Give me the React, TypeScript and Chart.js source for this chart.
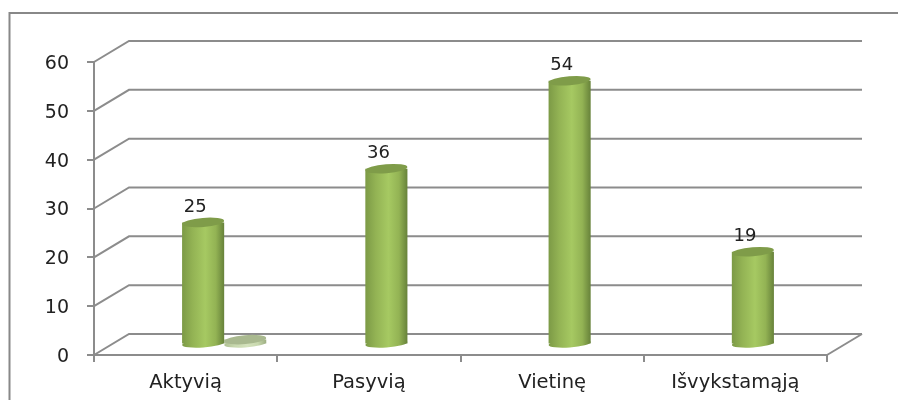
import React, { useEffect, useRef } from "react";
import { Chart, registerables } from "chart.js";

Chart.register(...registerables);

const categories = ["Aktyvią", "Pasyvią", "Vietinę", "Išvykstamąją"];
const mainSeries = [25, 36, 54, 19];
const smallSeries = [1, 0, 0, 0];
const emptySeries = [null, null, null, null];
const yTicks = [0, 10, 20, 30, 40, 50, 60];

const FONT = "'DejaVu Sans', sans-serif";
const GRAY = "#8c8c8c";
const DX = 35;
const DY = 21;

const cylinderPlugin = {
  id: "cylinder",
  beforeDraw(chart: any) {
    const { ctx } = chart;
    ctx.save();
    ctx.fillStyle = "#ffffff";
    ctx.fillRect(0, 0, chart.width, chart.height);
    ctx.strokeStyle = "#888888";
    ctx.lineWidth = 2;
    ctx.beginPath();
    ctx.moveTo(9.5, 400);
    ctx.lineTo(9.5, 13);
    ctx.lineTo(898, 13);
    ctx.stroke();
    ctx.restore();
  },
  beforeDatasetsDraw(chart: any) {
    const { ctx, chartArea: a, scales } = chart;
    const y = scales.y;
    ctx.save();
    ctx.strokeStyle = GRAY;
    ctx.lineWidth = 2;
    for (const t of yTicks) {
      const py = y.getPixelForValue(t);
      ctx.beginPath();
      ctx.moveTo(a.left, py);
      ctx.lineTo(a.left + DX, py - DY);
      ctx.lineTo(a.right + DX, py - DY);
      ctx.stroke();
    }
    const py0 = y.getPixelForValue(0);
    ctx.beginPath();
    ctx.moveTo(a.right, py0);
    ctx.lineTo(a.right + DX, py0 - DY);
    ctx.stroke();
    ctx.restore();

    ctx.save();
    ctx.translate(DX / 2, -DY / 2);
    chart.data.datasets.forEach((ds: any, di: number) => {
      const meta = chart.getDatasetMeta(di);
      meta.data.forEach((el: any, i: number) => {
        const v = ds.data[i];
        if (!v) return;
        const w = el.width;
        const g = ctx.createLinearGradient(el.x - w / 2, 0, el.x + w / 2, 0);
        const s = ds.stopColors;
        g.addColorStop(0, s[0]);
        g.addColorStop(0.25, s[1]);
        g.addColorStop(0.55, s[2]);
        g.addColorStop(0.8, s[1]);
        g.addColorStop(1, s[3]);
        el.options = { ...el.options, backgroundColor: g };
        ctx.fillStyle = g;
        ctx.beginPath();
        ctx.ellipse(el.x, el.base, w / 2, 4, -0.07, 0, Math.PI * 2);
        ctx.fill();
      });
    });
    ctx.restore();
    ctx.save();
    ctx.translate(DX / 2, -DY / 2);
  },
  afterDatasetsDraw(chart: any) {
    const { ctx } = chart;
    chart.data.datasets.forEach((ds: any, di: number) => {
      const meta = chart.getDatasetMeta(di);
      meta.data.forEach((el: any, i: number) => {
        const v = ds.data[i];
        if (!v) return;
        const w = el.width;
        ctx.fillStyle = ds.topColor;
        ctx.beginPath();
        ctx.ellipse(el.x, el.y, w / 2, 4.5, -0.08, 0, Math.PI * 2);
        ctx.fill();
        if (ds.showLabel) {
          ctx.fillStyle = "#222222";
          ctx.font = `18px ${FONT}`;
          ctx.textAlign = "center";
          ctx.textBaseline = "middle";
          ctx.fillText(String(v), el.x - 8, el.y - 15);
        }
      });
    });
    ctx.restore();
  },
};

export default function App() {
  const ref = useRef<HTMLCanvasElement>(null);
  useEffect(() => {
    const chart = new Chart(ref.current!, {
      type: "bar",
      data: {
        labels: categories,
        datasets: [
          { data: emptySeries, backgroundColor: "transparent" },
          {
            data: mainSeries,
            backgroundColor: "#9bbb59",
            stopColors: ["#7c9a46", "#93b354", "#a6c962", "#67823a"],
            topColor: "#7f9c49",
            showLabel: true,
          },
          {
            data: smallSeries,
            backgroundColor: "#c5d6a5",
            stopColors: ["#afc093", "#c8d8ae", "#d4e2bc", "#9dae82"],
            topColor: "#a9b98f",
            showLabel: false,
          },
        ] as any,
      },
      options: {
        animation: false,
        responsive: false,
        layout: { padding: { top: 62, right: 71, left: 0, bottom: 0 } },
        datasets: { bar: { categoryPercentage: 0.689, barPercentage: 1, borderWidth: 0 } },
        plugins: { legend: { display: false }, title: { display: false }, tooltip: { enabled: false } },
        scales: {
          x: {
            afterFit(s: any) { s.height = 45; },
            border: { color: GRAY, width: 2 },
            grid: { drawOnChartArea: false, color: GRAY, lineWidth: 2, tickLength: 7 },
            ticks: { color: "#222222", font: { family: FONT, size: 19.5 }, padding: 9, maxRotation: 0, autoSkip: false },
          },
          y: {
            min: 0,
            max: 60,
            afterFit(s: any) { s.width = 94; },
            border: { color: GRAY, width: 2 },
            grid: { drawOnChartArea: false, color: GRAY, lineWidth: 2, tickLength: 7 },
            ticks: { stepSize: 10, color: "#222222", font: { family: FONT, size: 19 }, padding: 18, labelOffset: 2 },
          },
        },
      },
      plugins: [cylinderPlugin],
    } as any);
    return () => chart.destroy();
  }, []);
  return (
    <div style={{ position: "fixed", left: 0, top: 0, width: 898, height: 400, background: "#fff" }}>
      <canvas ref={ref} width={898} height={400} style={{ display: "block", filter: "blur(0.4px)" }} />
    </div>
  );
}
